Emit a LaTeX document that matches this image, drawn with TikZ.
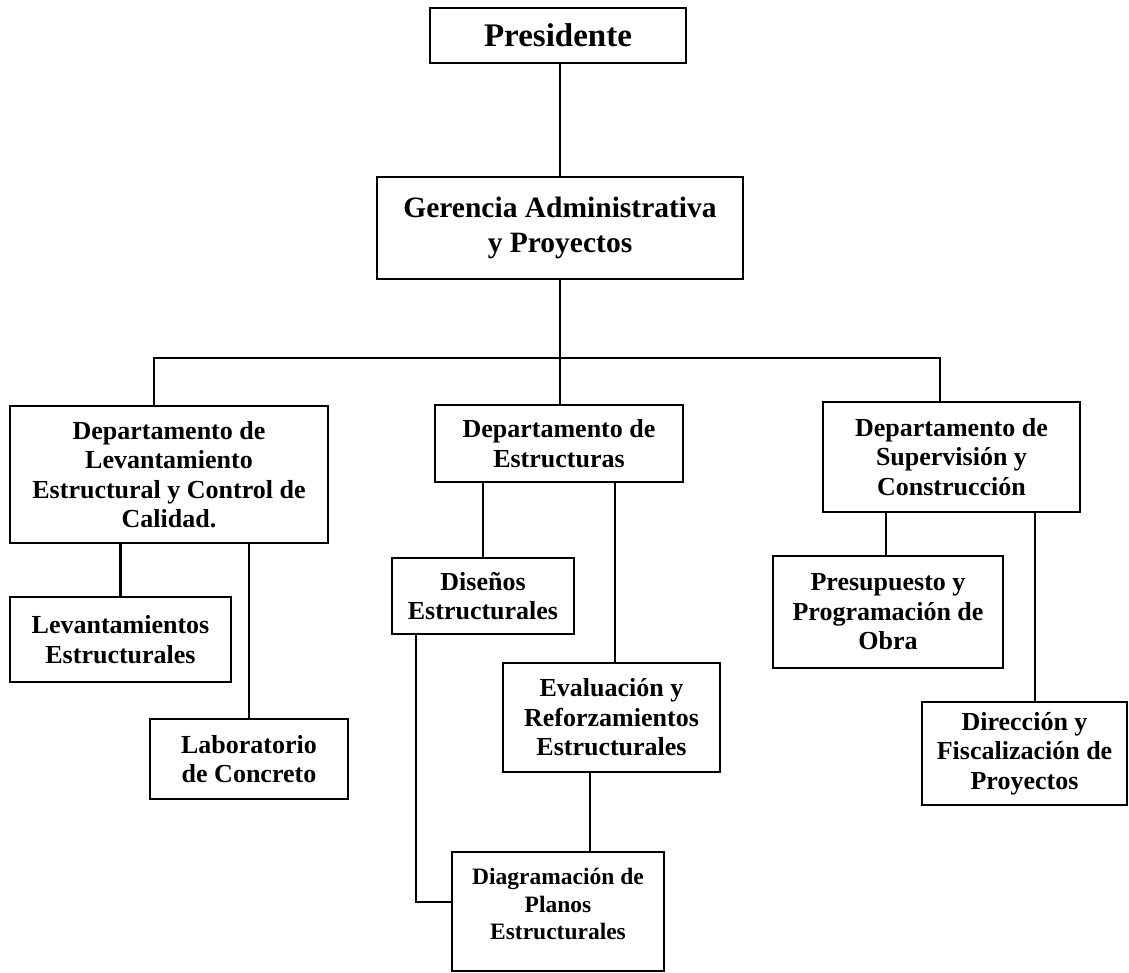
\documentclass[tikz,border=0pt]{standalone}
\usepackage{fontspec}
\setmainfont{Liberation Serif}
\usetikzlibrary{calc}
\tikzset{
  orgbox/.style={draw=black, line width=1.8pt, fill=white, inner sep=0pt, align=center,
    font=\fontsize{26}{29.5}\selectfont\bfseries},
  orgtxt/.style={inner sep=0pt, align=center, font=\fontsize{23.5}{27.5}\selectfont\bfseries},
  conn/.style={draw=black, line width=2.6pt}
}
\begin{document}
\begin{tikzpicture}[x=1pt, y=-1pt]
\fill[white] (0,0) rectangle (1129,973);
\useasboundingbox (0,0) rectangle (1129,973);

% top levels
\node[orgbox, minimum width=256, minimum height=55, font=\fontsize{33}{36}\selectfont\bfseries] (pres) at (558,35.5) {Presidente};
\node[orgbox, minimum width=366, minimum height=102, font=\fontsize{29.5}{35}\selectfont\bfseries] (ger) at (560,228) {Gerencia Administrativa\\y Proyectos};

% departments
\node[orgbox, minimum width=318, minimum height=137] (ldept) at (169,474.5) {Departamento de\\Levantamiento\\Estructural y Control de\\Calidad.};
\node[orgbox, minimum width=248, minimum height=77] (mdept) at (559,443.5) {Departamento de\\Estructuras};
\node[orgbox, minimum width=257, minimum height=110] (rdept) at (951.5,457) {Departamento de\\Supervisión y\\Construcción};

% sub units
\node[orgbox, minimum width=221, minimum height=85] (lev) at (120.5,639.5) {Levantamientos\\Estructurales};
\node[orgbox, minimum width=198, minimum height=80] (lab) at (249,759) {Laboratorio\\de Concreto};
\node[orgbox, minimum width=182, minimum height=76] (dis) at (483,596) {Diseños\\Estructurales};
\node[orgbox, minimum width=217, minimum height=109] (eva) at (611.5,717.5) {Evaluación y\\Reforzamientos\\Estructurales};
\node[orgbox, minimum width=212, minimum height=119] (diag) at (558,911.5) {};
\node[orgtxt] (diagt) at (558,904) {Diagramación de\\Planos\\Estructurales};
\node[orgbox, minimum width=230, minimum height=112] (pre) at (888,612) {Presupuesto y\\Programación de\\Obra};
\node[orgbox, minimum width=205, minimum height=103] (dir) at (1024.5,753.5) {Dirección y\\Fiscalización de\\Proyectos};

% bus
\coordinate (busL) at (154,358);
\coordinate (busM) at (560,358);
\coordinate (busR) at (940,358);

% connectors
\draw[conn] (ger.north) -- (ger.north |- pres.south);
\draw[conn] (ger.south) -- (busM);
\draw[conn, line cap=rect] (busL) -- (busR);
\draw[conn] (busL) -- (busL |- ldept.north);
\draw[conn] (busM) -- (busM |- mdept.north);
\draw[conn] (busR) -- (busR |- rdept.north);

\draw[conn] (lev.north) -- (lev.north |- ldept.south);
\draw[conn] (lab.north) -- (lab.north |- ldept.south);

\draw[conn] (dis.north) -- (dis.north |- mdept.south);
\draw[conn] ([xshift=3.5pt]eva.north) -- ([xshift=3.5pt]eva.north |- mdept.south);
\draw[conn] ([xshift=-21.5pt]eva.south) -- ([xshift=-21.5pt]eva.south |- diag.north);
\draw[conn] ([xshift=-67pt]dis.south) |- ([yshift=9.5pt]diag.west);

\draw[conn] ([xshift=-2pt]pre.north) -- ([xshift=-2pt]pre.north |- rdept.south);
\draw[conn] ([xshift=10.5pt]dir.north) -- ([xshift=10.5pt]dir.north |- rdept.south);

% redraw boxes on top of line ends
\end{tikzpicture}
\end{document}
